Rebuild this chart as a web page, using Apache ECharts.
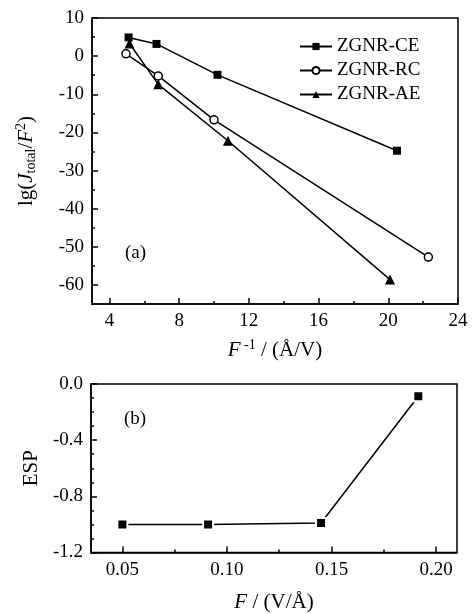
<!DOCTYPE html>
<html>
<head>
<meta charset="utf-8">
<script src="https://cdn.jsdelivr.net/npm/echarts@6/dist/echarts.min.js"></script>
<style>
  html, body { margin: 0; padding: 0; background: #fff; }
  #chart { width: 475px; height: 614px; }
</style>
</head>
<body>
<div id="chart"></div>
<script>
// panel (a): lg(J/F^2) vs 1/F
var ceX = [5.1, 6.7, 10.2, 20.5];
var ceY = [4.9, 3.2, -4.9, -24.8];
var rcX = [4.95, 6.8, 10.0, 22.3];
var rcY = [0.6, -5.2, -16.7, -52.7];
var aeX = [5.15, 6.8, 10.8, 20.1];
var aeY = [3.3, -7.4, -22.2, -58.6];

// panel (b): ESP vs F
var espF = [0.05, 0.091, 0.145, 0.1915];
var espV = [-1.0, -1.0, -0.99, -0.087];

// tick values
var aXTicks = [4, 8, 12, 16, 20, 24];
var aXMinor = [6, 10, 14, 18, 22];
var aYTicks = [-60, -50, -40, -30, -20, -10, 0, 10];
var aYMinor = [-55, -45, -35, -25, -15, -5, 5];
var bXTicks = [0.05, 0.10, 0.15, 0.20];
var bXMinor = [0.075, 0.125, 0.175];
var bYTicks = [-1.2, -0.8, -0.4, 0.0];
var bYMinor = [-1.1, -1.0, -0.9, -0.7, -0.6, -0.5, -0.3, -0.2, -0.1];

var FONT = 'Liberation Serif';
var FS = 19;   // tick labels, legend
var NS = 21;   // axis names

function pairs(xs, ys) {
  return xs.map(function (x, i) { return [x, ys[i]]; });
}

function mainAxis(gridIndex, min, max, ticks, fmt, extra) {
  var ax = {
    type: 'value', gridIndex: gridIndex, min: min, max: max,
    splitLine: { show: false },
    axisLine: { show: true, onZero: false, lineStyle: { color: '#000', width: 1.5 } },
    axisTick: { show: true, inside: true, length: 6, customValues: ticks, lineStyle: { color: '#000', width: 1.5 } },
    axisLabel: { show: true, customValues: ticks, margin: 8, color: '#000', fontFamily: FONT, fontSize: FS,
      formatter: fmt },
    nameLocation: 'middle',
    nameTextStyle: { color: '#000', fontFamily: FONT, fontSize: NS }
  };
  for (var k in extra) ax[k] = extra[k];
  return ax;
}

function minorAxis(gridIndex, min, max, ticks, pos) {
  return {
    type: 'value', gridIndex: gridIndex, min: min, max: max, position: pos,
    splitLine: { show: false },
    axisLine: { show: false, onZero: false },
    axisTick: { show: true, inside: true, length: 3, customValues: ticks, lineStyle: { color: '#000', width: 1.5 } },
    axisLabel: { show: false }
  };
}

var richName = {
  i: { fontFamily: FONT, fontSize: NS, fontStyle: 'italic', color: '#000', lineHeight: 24 },
  n: { fontFamily: FONT, fontSize: NS, color: '#000', lineHeight: 24 },
  sub: { fontFamily: FONT, fontSize: 14, color: '#000', lineHeight: 14, verticalAlign: 'bottom' },
  sup: { fontFamily: FONT, fontSize: 14, color: '#000', lineHeight: 14, verticalAlign: 'top' }
};

var chart = echarts.init(document.getElementById('chart'));

var option = {
  backgroundColor: '#fff',
  animation: false,
  grid: [
    { left: 92, top: 18, width: 366, height: 286, show: true, borderColor: '#000', borderWidth: 1.5, backgroundColor: 'transparent' },
    { left: 91, top: 384, width: 366, height: 170, show: true, borderColor: '#000', borderWidth: 1.5, backgroundColor: 'transparent' }
  ],
  xAxis: [
    mainAxis(0, 3, 24, aXTicks, function (v) { return String(v); }, {
      position: 'bottom',
      name: '{i|F}{sup| -1}{n| / (Å/V)}',
      nameGap: 34,
      nameTextStyle: { rich: richName }
    }),
    minorAxis(0, 3, 24, aXMinor, 'bottom'),
    mainAxis(1, 0.035, 0.21, bXTicks, function (v) { return v.toFixed(2); }, {
      position: 'bottom',
      name: '{i|F}{n| / (V/Å)}',
      nameGap: 38,
      nameTextStyle: { rich: richName }
    }),
    minorAxis(1, 0.035, 0.21, bXMinor, 'bottom')
  ],
  yAxis: [
    mainAxis(0, -65, 10, aYTicks, function (v) { return String(v); }, {
      position: 'left',
      name: '{n|lg(}{i|J}{sub|total}{n|/}{i|F}{sup|2}{n|)}',
      nameGap: 54,
      nameRotate: 90,
      nameTextStyle: { rich: richName }
    }),
    minorAxis(0, -65, 10, aYMinor, 'left'),
    mainAxis(1, -1.2, 0, bYTicks, function (v) { return v.toFixed(1); }, {
      position: 'left',
      name: 'ESP',
      nameGap: 48,
      nameRotate: 90
    }),
    minorAxis(1, -1.2, 0, bYMinor, 'left')
  ],
  legend: {
    orient: 'vertical',
    left: 294,
    top: 32,
    itemWidth: 32,
    itemHeight: 9,
    itemGap: 5,
    textStyle: { color: '#000', fontFamily: FONT, fontSize: FS },
    data: ['ZGNR-CE', 'ZGNR-RC', 'ZGNR-AE']
  },
  graphic: [
    { type: 'text', left: 125, top: 244, style: { text: '(a)', font: FS + 'px "Liberation Serif"', fill: '#000' } },
    { type: 'text', left: 124, top: 410, style: { text: '(b)', font: FS + 'px "Liberation Serif"', fill: '#000' } }
  ],
  series: [
    {
      name: 'ZGNR-CE', type: 'line', xAxisIndex: 0, yAxisIndex: 0,
      data: pairs(ceX, ceY),
      symbol: 'rect', symbolSize: 8,
      lineStyle: { color: '#000', width: 1.5 },
      itemStyle: { color: '#000' }
    },
    {
      name: 'ZGNR-RC', type: 'line', xAxisIndex: 0, yAxisIndex: 0,
      data: pairs(rcX, rcY),
      symbol: 'circle', symbolSize: 8,
      lineStyle: { color: '#000', width: 1.5 },
      itemStyle: { color: '#fff', borderColor: '#000', borderWidth: 1.5 }
    },
    {
      name: 'ZGNR-AE', type: 'line', xAxisIndex: 0, yAxisIndex: 0,
      data: pairs(aeX, aeY),
      symbol: 'triangle', symbolSize: 10,
      lineStyle: { color: '#000', width: 1.5 },
      itemStyle: { color: '#000' }
    },
    {
      name: 'ESP', type: 'line', xAxisIndex: 2, yAxisIndex: 2,
      data: pairs(espF, espV),
      symbol: 'rect', symbolSize: 10,
      lineStyle: { color: '#000', width: 1.5 },
      itemStyle: { color: '#000', borderColor: '#fff', borderWidth: 2 }
    }
  ]
};

chart.setOption(option);
</script>
</body>
</html>
